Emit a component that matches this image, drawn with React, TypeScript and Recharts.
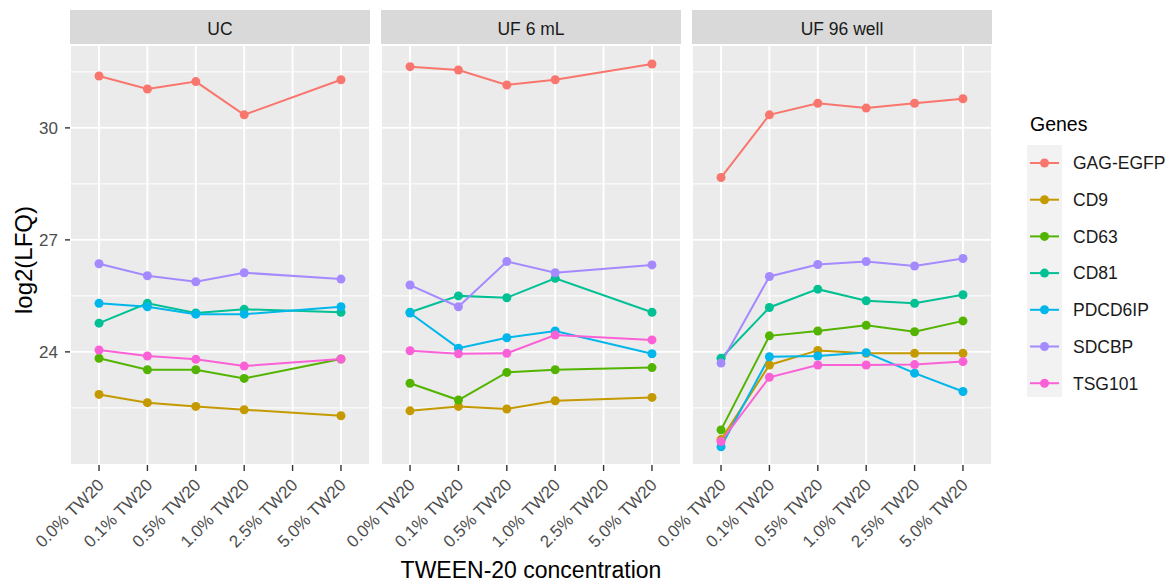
import React from 'react';
import { LineChart, Line, XAxis, YAxis, CartesianGrid, ReferenceLine, Legend } from 'recharts';

// Categories on the x axis (one per TWEEN-20 level)
const concentrations = ['0.0% TW20', '0.1% TW20', '0.5% TW20', '1.0% TW20', '2.5% TW20', '5.0% TW20'];

// Genes, in legend order, with the default ggplot hue palette
const genes = ['GAG-EGFP', 'CD9', 'CD63', 'CD81', 'PDCD6IP', 'SDCBP', 'TSG101'];
const geneColors = ['#F8766D', '#C49A00', '#53B400', '#00C094', '#00B6EB', '#A58AFF', '#FB61D7'];

// Facet titles
const panelTitles = ['UC', 'UF 6 mL', 'UF 96 well'];

// Y axis
const yTicks = [24, 27, 30];
const yMinorLines = [22.5, 25.5, 28.5, 31.5];
const yDomain: [number, number] = [20.97, 32.22];

// UC (no 2.5% sample)
const ucGagEgfp = [31.39, 31.04, 31.24, 30.35, null, 31.29];
const ucCd9 = [22.86, 22.64, 22.54, 22.45, null, 22.29];
const ucCd63 = [23.83, 23.52, 23.52, 23.29, null, 23.81];
const ucCd81 = [24.77, 25.3, 25.04, 25.14, null, 25.06];
const ucPdcd6ip = [25.3, 25.21, 25.01, 25.01, null, 25.21];
const ucSdcbp = [26.36, 26.04, 25.88, 26.12, null, 25.95];
const ucTsg101 = [24.05, 23.89, 23.8, 23.62, null, 23.81];

// UF 6 mL (no 2.5% sample)
const uf6GagEgfp = [31.64, 31.55, 31.15, 31.29, null, 31.71];
const uf6Cd9 = [22.42, 22.54, 22.47, 22.69, null, 22.78];
const uf6Cd63 = [23.16, 22.71, 23.45, 23.52, null, 23.58];
const uf6Cd81 = [25.06, 25.5, 25.45, 25.97, null, 25.06];
const uf6Pdcd6ip = [25.04, 24.1, 24.38, 24.56, null, 23.95];
const uf6Sdcbp = [25.79, 25.21, 26.42, 26.12, null, 26.33];
const uf6Tsg101 = [24.03, 23.95, 23.96, 24.45, null, 24.32];

// UF 96 well
const uf96GagEgfp = [28.67, 30.35, 30.66, 30.53, 30.66, 30.78];
const uf96Cd9 = [21.65, 23.65, 24.04, 23.96, 23.96, 23.96];
const uf96Cd63 = [21.91, 24.43, 24.56, 24.71, 24.54, 24.83];
const uf96Cd81 = [23.83, 25.19, 25.68, 25.37, 25.3, 25.53];
const uf96Pdcd6ip = [21.46, 23.87, 23.89, 23.98, 23.43, 22.94];
const uf96Sdcbp = [23.7, 26.02, 26.34, 26.42, 26.3, 26.5];
const uf96Tsg101 = [21.6, 23.32, 23.65, 23.65, 23.66, 23.74];

const ucSeries = [ucGagEgfp, ucCd9, ucCd63, ucCd81, ucPdcd6ip, ucSdcbp, ucTsg101];
const uf6Series = [uf6GagEgfp, uf6Cd9, uf6Cd63, uf6Cd81, uf6Pdcd6ip, uf6Sdcbp, uf6Tsg101];
const uf96Series = [uf96GagEgfp, uf96Cd9, uf96Cd63, uf96Cd81, uf96Pdcd6ip, uf96Sdcbp, uf96Tsg101];

const FONT = '"Liberation Sans", Arial, Helvetica, sans-serif';
const W = 1176;
const H = 583;
const PLOT_TOP = 45;
const X_AXIS_H = 118;
const PANEL_W = 300;
const AXIS_W = 70;
const PANEL_LEFTS = [70, 381, 692];
const LEGEND_W = 184;
const TICK_FONT = 17;

type Row = { idx: number } & Record<string, number | null>;

function buildRows(series: (number | null)[][]): Row[] {
  return concentrations.map((_, i) => {
    const row: Row = { idx: i } as Row;
    genes.forEach((g, k) => {
      row[g] = series[k][i];
    });
    return row;
  });
}

const ConcentrationTick = (props: any) => {
  const { x, y, payload } = props;
  return (
    <g transform={`translate(${x + 6},${y + 13})`}>
      <text
        x={0}
        y={0}
        textAnchor="end"
        transform="rotate(-45)"
        fill="#4D4D4D"
        fontSize={TICK_FONT}
        fontFamily={FONT}
      >
        {concentrations[payload.value]}
      </text>
    </g>
  );
};

const YTitle = (props: any) => {
  const vb = props.viewBox || { x: 0, y: PLOT_TOP, width: AXIS_W, height: 420 };
  const cx = vb.x + 23;
  const cy = vb.y + vb.height / 2 + 5;
  return (
    <text
      x={cx}
      y={cy}
      transform={`rotate(-90, ${cx}, ${cy})`}
      textAnchor="middle"
      dominantBaseline="central"
      fill="#000000"
      fontSize={24}
      fontFamily={FONT}
    >
      log2(LFQ)
    </text>
  );
};

const XTitle = (props: any) => {
  const vb = props.viewBox || { x: 0, y: 0, width: 0, height: 0 };
  return (
    <text
      x={vb.x + vb.width / 2}
      y={vb.y + 113}
      textAnchor="middle"
      fill="#000000"
      fontSize={23}
      fontFamily={FONT}
    >
      TWEEN-20 concentration
    </text>
  );
};

const GenesLegend = (props: any) => {
  const payload = [...(props.payload || [])].sort(
    (a: any, b: any) => genes.indexOf(a.value) - genes.indexOf(b.value)
  );
  const step = 36.7;
  return (
    <svg width={150} height={300} style={{ display: 'block', overflow: 'visible' }}>
      <text x={3} y={31} fontSize={19.5} fill="#000000" fontFamily={FONT}>
        Genes
      </text>
      <rect x={0} y={45} width={35} height={252} fill="#F2F2F2" />
      {payload.map((p: any, i: number) => {
        const cy = 63 + i * step;
        return (
          <g key={p.value}>
            <line x1={3} x2={32} y1={cy} y2={cy} stroke={p.color} strokeWidth={2} />
            <circle cx={17.5} cy={cy} r={4.5} fill={p.color} />
            <text x={46} y={cy} dy="0.36em" fontSize={17.5} fill="#1A1A1A" fontFamily={FONT}>
              {p.value}
            </text>
          </g>
        );
      })}
    </svg>
  );
};

function Panel({ index, series }: { index: number; series: (number | null)[][] }) {
  const rows = buildRows(series);
  const first = index === 0;
  const last = index === 2;
  const chartLeft = PANEL_LEFTS[index] - AXIS_W;
  const width = AXIS_W + PANEL_W + (last ? LEGEND_W : 0);
  return (
    <div style={{ position: 'absolute', left: chartLeft, top: 0 }}>
      <LineChart
        width={width}
        height={H}
        data={rows}
        margin={{ top: PLOT_TOP, right: last ? LEGEND_W : 0, bottom: 0, left: first ? 0 : AXIS_W }}
      >
        <CartesianGrid fill="#EBEBEB" stroke="#FFFFFF" strokeWidth={1.9} />
        {yMinorLines.map((v) => (
          <ReferenceLine key={v} y={v} stroke="#FFFFFF" strokeWidth={1} />
        ))}
        <XAxis
          type="number"
          dataKey="idx"
          domain={[-0.6, 5.6]}
          ticks={[0, 1, 2, 3, 4, 5]}
          interval={0}
          allowDataOverflow
          height={X_AXIS_H}
          axisLine={false}
          tickLine={{ stroke: '#333333', strokeWidth: 1.4 }}
          tickSize={6}
          tick={<ConcentrationTick />}
          label={index === 1 ? { content: XTitle } : undefined}
        />
        <YAxis
          type="number"
          domain={yDomain}
          ticks={yTicks}
          allowDataOverflow
          hide={!first}
          width={AXIS_W}
          axisLine={false}
          tickLine={{ stroke: '#333333', strokeWidth: 1.4 }}
          tickSize={5}
          tickMargin={7}
          tick={{ fill: '#4D4D4D', fontSize: TICK_FONT, fontFamily: FONT }}
          label={first ? { content: YTitle } : undefined}
        />
        {genes.map((g, k) => (
          <Line
            key={g}
            type="linear"
            dataKey={g}
            name={g}
            stroke={geneColors[k]}
            strokeWidth={2}
            dot={{ r: 4.5, fill: geneColors[k], stroke: geneColors[k], strokeWidth: 0 }}
            activeDot={false}
            connectNulls
            isAnimationActive={false}
          />
        ))}
        {last && (
          <Legend
            layout="vertical"
            align="center"
            verticalAlign="middle"
            content={GenesLegend}
            wrapperStyle={{ left: AXIS_W + PANEL_W + 35, top: 100, width: 150, height: 300 }}
          />
        )}
      </LineChart>
    </div>
  );
}

export default function App() {
  const allSeries = [ucSeries, uf6Series, uf96Series];
  return (
    <div
      style={{
        position: 'absolute',
        left: 0,
        top: 0,
        width: W,
        height: H,
        background: '#FFFFFF',
        fontFamily: FONT,
        overflow: 'hidden',
      }}
    >
      {panelTitles.map((t, i) => (
        <div
          key={t}
          style={{
            position: 'absolute',
            left: PANEL_LEFTS[i],
            top: 10,
            width: PANEL_W,
            height: PLOT_TOP - 10,
            background: '#D9D9D9',
            color: '#1A1A1A',
            fontSize: 17.5,
            lineHeight: `${PLOT_TOP - 10}px`,
            textAlign: 'center',
            paddingTop: 2,
            boxSizing: 'border-box',
          }}
        >
          {t}
        </div>
      ))}
      {allSeries.map((s, i) => (
        <Panel key={i} index={i} series={s} />
      ))}
    </div>
  );
}
